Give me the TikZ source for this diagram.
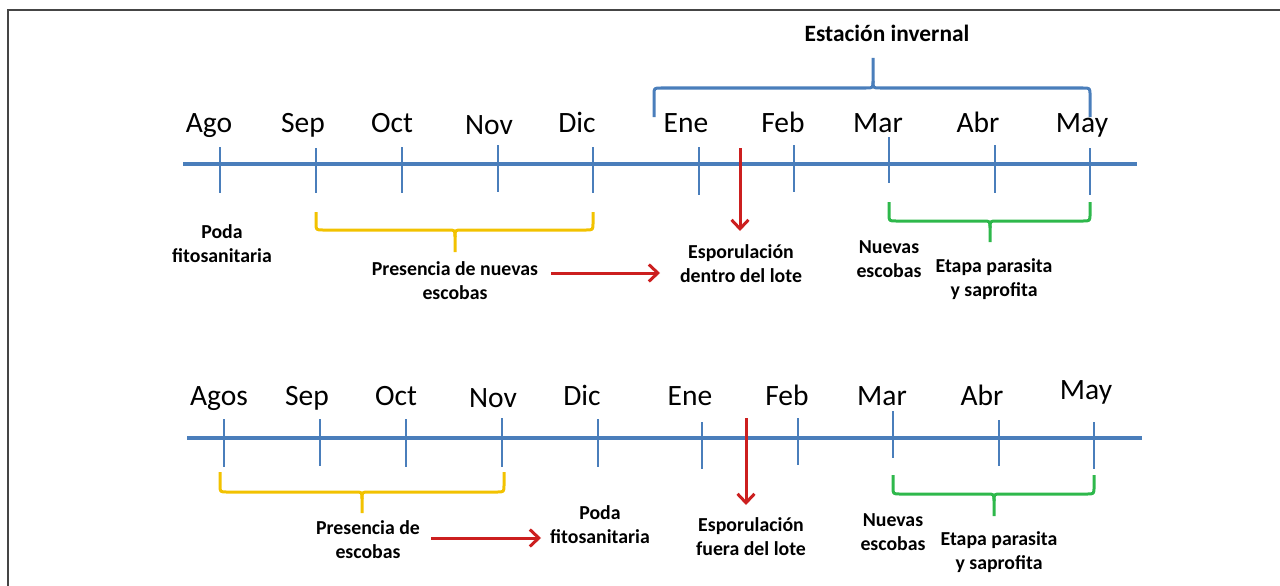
\documentclass[tikz,border=0pt]{standalone}
\usepackage{fontspec}
\setmainfont{Carlito}
\usetikzlibrary{arrows.meta}
\definecolor{tblue}{HTML}{4A7EBB}
\definecolor{tyellow}{HTML}{F2C200}
\definecolor{tgreen}{HTML}{2EB84B}
\definecolor{tred}{HTML}{CC1F1F}
\definecolor{frame}{HTML}{454545}
\newcommand{\hbrace}[8]{%
  \draw[#1] ({#2},{#5}) -- ({#2},{#6-(#8)}) .. controls ({#2},{#6}) .. ({#2+7},{#6}) -- ({#4-7},{#6}) .. controls ({#4},{#6}) .. ({#4},{#6+(#8)}) -- ({#4},{#7});
  \draw[#1] ({#3},{#5}) -- ({#3},{#6-(#8)}) .. controls ({#3},{#6}) .. ({#3-7},{#6}) -- ({#4+7},{#6}) .. controls ({#4},{#6}) .. ({#4},{#6+(#8)});
}
\begin{document}
\begin{tikzpicture}[x=1pt,y=-1pt,
  axis/.style={tblue,line width=3.4pt},
  tick/.style={tblue,line width=2.8pt},
  month/.style={font=\fontsize{29.5}{34}\selectfont,anchor=base,inner sep=0pt},
  lbl/.style={font=\fontsize{19.8}{24}\selectfont\bfseries,align=center,inner sep=0pt},
  bracestyle/.style={line width=3pt,line join=round},
  redarrow/.style={tred,line width=3pt,-{Straight Barb[length=9pt,width=17pt,line width=3pt]}}]
\useasboundingbox (0,0) rectangle (1280,586);
% frame
\draw[frame,line width=2pt] (8,586) -- (8,10) -- (1280,10);

% ===== top timeline =====
\coordinate (tL) at (183,164);
\coordinate (tR) at (1137,164);
\draw[axis] (tL) -- (tR);
\foreach \x/\ya/\yb in {220/147/193,316/148/193,402/147/193,498/145/192,593/147/193,699/147/195,794/145/192,889/137/183,995/145/193,1090/148/195}
  \draw[tick] (\x,\ya) -- (\x,\yb);
\foreach \t/\x/\y [count=\i] in {Ago/209/132,Sep/303/132,Oct/392/132,Nov/489/134,Dic/577/132,Ene/686/132,Feb/783/132,Mar/878/132,Abr/978/132,May/1082/132}
  \node[month] (m\i) at (\x,\y) {\t};

\node[font=\fontsize{23.4}{28}\selectfont\bfseries,inner sep=0pt] (est) at (887,33) {Estación invernal};
\hbrace{tblue,bracestyle}{654}{1090}{873}{117}{88}{58}{-7}
\hbrace{tyellow,bracestyle}{316}{593}{455}{212}{230}{252}{7}
\hbrace{tgreen,bracestyle}{889}{1090}{990}{202}{221}{242}{7}

\node[lbl] (poda1) at (222,244) {Poda\\fitosanitaria};
\node[lbl] (pres1) at (455,281) {Presencia de nuevas\\escobas};
\node[lbl] (esp1) at (741,264) {Esporulación\\dentro del lote};
\node[lbl] (nue1) at (889,259) {Nuevas\\escobas};
\node[lbl] (eta1) at (994,279) {Etapa parasita\\y saprofita};

\coordinate (ra1) at (551,273);
\coordinate (rb1) at (660,273);
\draw[redarrow] (ra1) -- (rb1);
\coordinate (va1) at (740,148);
\coordinate (vb1) at (740,231);
\draw[redarrow] (va1) -- (vb1);

% ===== bottom timeline =====
\coordinate (bL) at (187,438);
\coordinate (bR) at (1142,438);
\draw[axis] (bL) -- (bR);
\foreach \x/\ya/\yb in {224/419/467,320/419/466,406/419/467,502/418/467,598/419/467,702/422/469,798/418/465,893/411/458,999/420/466,1094/422/469}
  \draw[tick] (\x,\ya) -- (\x,\yb);
\foreach \t/\x/\y [count=\i] in {Agos/219/405,Sep/307/405,Oct/396/405,Nov/493/407,Dic/582/405,Ene/690/405,Feb/787/405,Mar/882/405,Abr/982/405,May/1086/399}
  \node[month] (b\i) at (\x,\y) {\t};

\hbrace{tyellow,bracestyle}{220}{504}{362}{472}{492}{513}{7}
\hbrace{tgreen,bracestyle}{893}{1094}{994}{475}{494}{516}{7}

\node[lbl] (pres2) at (368,540) {Presencia de\\escobas};
\node[lbl] (poda2) at (600,525) {Poda\\fitosanitaria};
\node[lbl] (esp2) at (751,537) {Esporulación\\fuera del lote};
\node[lbl] (nue2) at (893,532) {Nuevas\\escobas};
\node[lbl] (eta2) at (999,552) {Etapa parasita\\y saprofita};

\coordinate (ra2) at (431,538);
\coordinate (rb2) at (541,538);
\draw[redarrow] (ra2) -- (rb2);
\coordinate (va2) at (746,418);
\coordinate (vb2) at (746,505);
\draw[redarrow] (va2) -- (vb2);
\end{tikzpicture}
\end{document}
